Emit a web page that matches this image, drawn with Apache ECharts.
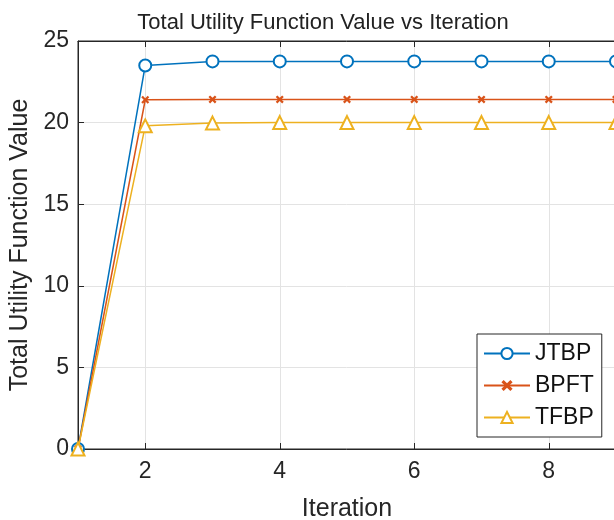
<!DOCTYPE html>
<html>
<head>
<meta charset="utf-8">
<script src="https://cdn.jsdelivr.net/npm/echarts@6/dist/echarts.min.js"></script>
<style>
  html, body { margin: 0; padding: 0; background: #fff; }
  #chart { width: 614px; height: 520px; }
</style>
</head>
<body>
<div id="chart"></div>
<script>
// Iteration numbers and total utility per method
const iterations = [1, 2, 3, 4, 5, 6, 7, 8, 9];
const jtbp = [0, 23.5, 23.75, 23.75, 23.75, 23.75, 23.75, 23.75, 23.75];
const bpft = [0, 21.4, 21.42, 21.42, 21.42, 21.42, 21.42, 21.42, 21.42];
const tfbp = [0, 19.8, 19.97, 20.0, 20.0, 20.0, 20.0, 20.0, 20.0];
const xTickValues = [2, 4, 6, 8];
const yTickValues = [0, 5, 10, 15, 20, 25];

const FONT = 'Liberation Sans, Arial, sans-serif';
const AXIS_COLOR = '#262626';
const GRID_COLOR = '#e3e3e3';

const toPairs = (ys) => iterations.map((x, i) => [x, ys[i]]);
const crossPath = 'path://M2,0L5,3L8,0L10,2L7,5L10,8L8,10L5,7L2,10L0,8L3,5L0,2Z';

const chart = echarts.init(document.getElementById('chart'), null, { renderer: 'canvas' });

const xAxisBase = {
  type: 'value',
  min: 1,
  max: 9,
  axisLine: { show: true, onZero: false, lineStyle: { color: AXIS_COLOR, width: 1 } },
  axisTick: { show: true, inside: true, length: 6, customValues: xTickValues, lineStyle: { color: AXIS_COLOR } },
  splitLine: { show: false }
};

chart.setOption({
  animation: false,
  backgroundColor: '#ffffff',
  title: {
    text: 'Total Utility Function Value vs Iteration',
    left: 318,
    top: 7,
    textAlign: 'center',
    textStyle: { fontFamily: FONT, fontSize: 22, fontWeight: 'normal', color: '#222222' }
  },
  grid: {
    left: 78,
    top: 41,
    width: 538,
    height: 408,
    outerBoundsMode: 'none',
    containLabel: false,
    show: true,
    borderColor: AXIS_COLOR,
    borderWidth: 1,
    backgroundColor: '#ffffff'
  },
  legend: {
    orient: 'vertical',
    left: 477,
    top: 334,
    padding: [8, 8, 8, 6],
    itemGap: 9,
    itemWidth: 46,
    itemHeight: 14,
    borderColor: AXIS_COLOR,
    borderWidth: 1,
    backgroundColor: '#ffffff',
    textStyle: { fontFamily: FONT, fontSize: 23, color: '#111111' },
    data: ['JTBP', 'BPFT', 'TFBP']
  },
  xAxis: [
    Object.assign({}, xAxisBase, {
      position: 'bottom',
      name: 'Iteration',
      nameLocation: 'middle',
      nameGap: 48,
      nameTextStyle: { fontFamily: FONT, fontSize: 25, color: '#262626' },
      axisLabel: {
        show: true,
        customValues: xTickValues,
        margin: 11,
        fontFamily: FONT,
        fontSize: 23,
        color: '#262626'
      },
      splitLine: { show: true, lineStyle: { color: GRID_COLOR, width: 1 } }
    }),
    Object.assign({}, xAxisBase, {
      position: 'top',
      axisLabel: { show: false }
    })
  ],
  yAxis: {
    type: 'value',
    min: 0,
    max: 25,
    interval: 5,
    name: 'Total Utility Function Value',
    nameLocation: 'middle',
    nameGap: 44,
    nameTextStyle: { fontFamily: FONT, fontSize: 25, color: '#262626' },
    axisLine: { show: true, lineStyle: { color: AXIS_COLOR, width: 1 } },
    axisTick: { show: true, inside: true, length: 6, lineStyle: { color: AXIS_COLOR } },
    axisLabel: { margin: 9, fontFamily: FONT, fontSize: 23, color: '#262626',
      formatter: (v) => (yTickValues.indexOf(v) >= 0 ? String(v) : '') },
    splitLine: { show: true, lineStyle: { color: GRID_COLOR, width: 1 } }
  },
  series: [
    {
      name: 'JTBP',
      type: 'line',
      data: toPairs(jtbp),
      symbol: 'emptyCircle',
      symbolSize: 12,
      clip: false,
      lineStyle: { color: '#0072BD', width: 1.5 },
      itemStyle: { color: '#0072BD', borderColor: '#0072BD', borderWidth: 1.6 },
      z: 3
    },
    {
      name: 'BPFT',
      type: 'line',
      data: toPairs(bpft),
      symbol: crossPath,
      symbolSize: 8,
      clip: false,
      lineStyle: { color: '#D95319', width: 1.5 },
      itemStyle: { color: '#D95319', borderWidth: 0 },
      z: 4
    },
    {
      name: 'TFBP',
      type: 'line',
      data: toPairs(tfbp),
      symbol: 'emptyTriangle',
      symbolSize: 13,
      clip: false,
      lineStyle: { color: '#EDB120', width: 1.5 },
      itemStyle: { color: '#EDB120', borderColor: '#EDB120', borderWidth: 1.6 },
      z: 5
    }
  ]
});
</script>
</body>
</html>
